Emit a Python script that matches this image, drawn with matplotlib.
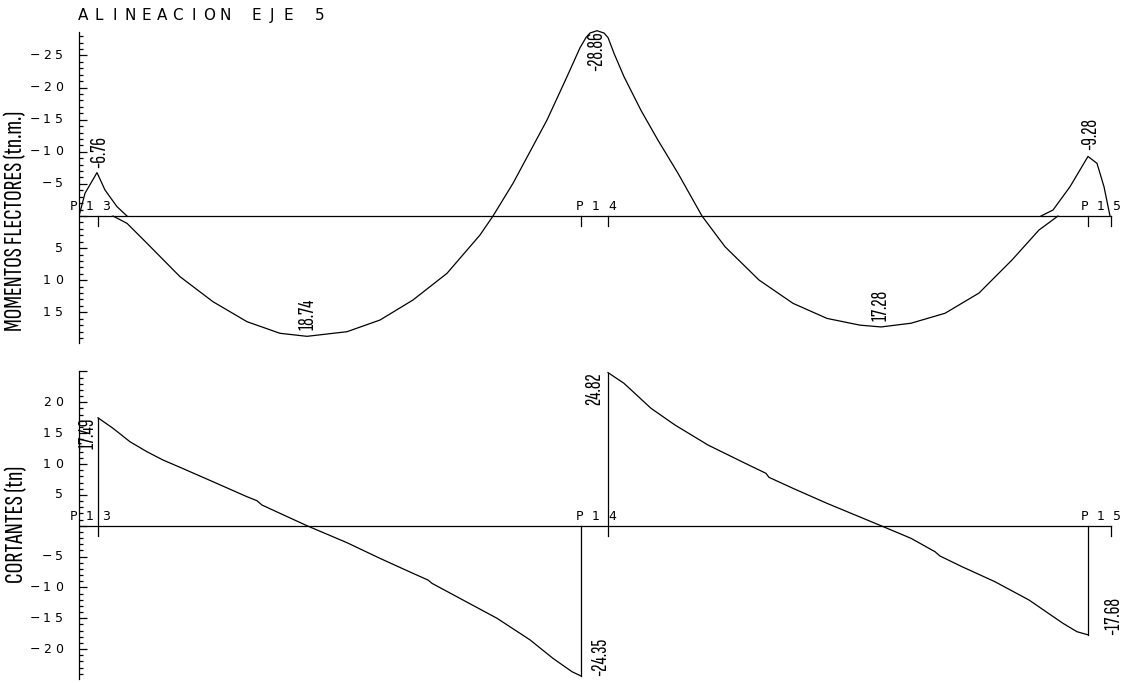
import matplotlib.pyplot as plt

# column faces along the beam (m)
col_names = ['P13', 'P14', 'P15']
col_left = [0.00, 5.02, 10.09]
col_right = [0.19, 5.29, 10.32]

# bending moments (tn.m), negative = hogging
hog_a_x = [0.00, 0.06, 0.18, 0.26, 0.38, 0.48]
hog_a_m = [0.00, -3.54, -6.76, -4.05, -1.45, 0.00]

sag_x = [0.34, 0.48, 0.68, 1.01, 1.34, 1.68, 2.01, 2.28, 2.68, 3.01, 3.34, 3.68,
         4.01, 4.14, 4.34, 4.68, 4.88, 5.01, 5.07, 5.11, 5.18, 5.25, 5.29, 5.35,
         5.45, 5.62, 5.79, 5.99, 6.23, 6.46, 6.80, 7.14, 7.48, 7.81, 8.02, 8.32,
         8.66, 9.00, 9.33, 9.60, 9.79]
sag_m = [0.00, 1.14, 4.25, 9.45, 13.35, 16.46, 18.27, 18.74, 18.02, 16.20, 13.08, 8.93,
         2.96, 0.00, -5.09, -14.95, -21.70, -26.20, -27.80, -28.50, -28.86, -28.50, -27.80, -25.34,
         -21.70, -16.45, -11.80, -6.65, 0.00, 4.78, 9.97, 13.60, 15.95, 17.00, 17.28, 16.70,
         15.15, 12.00, 6.85, 2.18, 0.00]

hog_b_x = [9.62, 9.74, 9.91, 10.09, 10.18, 10.25, 10.31]
hog_b_m = [0.00, -0.93, -4.56, -9.28, -8.20, -4.56, 0.00]

# shear forces (tn)
v1_x = [0.19, 0.34, 0.51, 0.68, 0.84, 1.01, 1.34, 1.68, 1.78, 1.83, 2.01, 2.28,
        2.68, 3.01, 3.34, 3.49, 3.53, 3.84, 4.18, 4.51, 4.74, 4.93, 5.02]
v1 = [17.49, 15.79, 13.61, 11.99, 10.65, 9.47, 7.13, 4.70, 4.05, 3.35, 2.01, 0.00,
      -2.75, -5.29, -7.72, -8.80, -9.34, -12.04, -15.00, -18.50, -21.50, -23.66, -24.35]
v2_x = [5.29, 5.45, 5.72, 5.96, 6.29, 6.63, 6.87, 6.90, 7.14, 7.48, 8.02, 8.32,
        8.56, 8.61, 8.83, 9.16, 9.50, 9.84, 9.98, 10.09]
v2 = [24.82, 23.08, 19.03, 16.32, 13.08, 10.37, 8.49, 7.84, 6.06, 3.63, 0.00, -2.04,
      -4.21, -4.91, -6.64, -9.08, -12.04, -15.82, -17.18, -17.68]

m_ticks = [-25, -20, -15, -10, -5, 5, 10, 15]
v_ticks = [20, 15, 10, 5, -5, -10, -15, -20]

W, H = 1126, 683
LW = 0.9
CAD = ['DejaVu Sans']
NARROW = ['Sofia Sans Extra Condensed', 'Roboto Condensed', 'DejaVu Sans']


def spaced(ax, x, y, s, pitch, align='center', coords='data', dx=0, dy=0, **kw):
    # CAD style text: one glyph per fixed pitch
    n = len(s)
    if align == 'center':
        start = -(n - 1) / 2 * pitch
    elif align == 'right':
        start = -(n - 0.5) * pitch
    else:
        start = 0.5 * pitch
    for i, ch in enumerate(s):
        if ch == ' ':
            continue
        ax.annotate(ch, xy=(x, y), xycoords=coords, xytext=(dx + start + i * pitch, dy),
                    textcoords='offset pixels', ha='center', family=CAD, **kw)


fig = plt.figure(figsize=(W / 100, H / 100), dpi=100)
ax_m = fig.add_axes([79 / W, (H - 350) / H, 1047 / W, 325 / H])
ax_v = fig.add_axes([79 / W, 0, 1047 / W, 318 / H])

for ax, lo, hi, ticks in [(ax_m, -28.7, 19.8, m_ticks), (ax_v, -24.8, 25.0, v_ticks)]:
    for side in ['top', 'right', 'bottom']:
        ax.spines[side].set_visible(False)
    ax.spines['left'].set_bounds(lo, hi)
    ax.spines['left'].set_linewidth(LW)
    ax.set_xticks([])
    ax.set_yticks([t for t in range(-25, 26, 5) if lo <= t <= hi])
    ax.set_yticks([t for t in range(-30, 30) if lo <= t <= hi], minor=True)
    ax.tick_params(axis='y', which='both', direction='in', width=LW, labelleft=False)
    ax.tick_params(axis='y', which='major', length=5.8)
    ax.tick_params(axis='y', which='minor', length=2.9)
    for t in ticks:
        lbl = ('\u2212' if t < 0 else '') + str(abs(t))
        spaced(ax, 0, t, lbl, 12, align='right', coords=('axes fraction', 'data'),
               dx=-14, va='center', fontsize=9)
    # beam axis and column faces
    ax.plot([0, col_right[-1]], [0, 0], color='black', lw=LW)
    for name, a, b in zip(col_names, col_left, col_right):
        spaced(ax, (a + b) / 2, 0, name, 16.5, dx=1.5, dy=3, va='bottom', fontsize=9)

ax_m.set_xlim(0, 10.47)
ax_v.set_xlim(0, 10.47)
ax_m.set_ylim(20.87, -29.75)
ax_v.set_ylim(-25.49, 26.05)

# moment diagram
for xs, ms in [(hog_a_x, hog_a_m), (sag_x, sag_m), (hog_b_x, hog_b_m)]:
    ax_m.plot(xs, ms, color='black', lw=LW)
for x in [col_right[0], col_left[1], col_right[1], col_left[2], col_right[2]]:
    ax_m.plot([x, x], [0, 1.55], color='black', lw=LW)


def vlabel(ax, x, y, v, ha, va, dx, dy):
    ax.annotate(f'{v:.2f}', xy=(x, y), xytext=(dx, dy), textcoords='offset pixels',
                rotation=90, ha=ha, va=va, family=NARROW, fontsize=15.5)


i = hog_a_m.index(min(hog_a_m))
vlabel(ax_m, hog_a_x[i], hog_a_m[i], hog_a_m[i], 'center', 'bottom', 3, 5)
i = hog_b_m.index(min(hog_b_m))
vlabel(ax_m, hog_b_x[i], hog_b_m[i], hog_b_m[i], 'center', 'bottom', 3, 6)
i = sag_m.index(min(sag_m))
vlabel(ax_m, sag_x[i], sag_m[i], sag_m[i], 'center', 'top', 0, -1)
half = sag_x.index(6.23)
i = sag_m.index(max(sag_m[:half]))
vlabel(ax_m, sag_x[i], sag_m[i], sag_m[i], 'center', 'bottom', 1, 6)
i = half + sag_m[half:].index(max(sag_m[half:]))
vlabel(ax_m, sag_x[i], sag_m[i], sag_m[i], 'center', 'bottom', 0, 6)

# shear diagram
ax_v.plot(v1_x, v1, color='black', lw=LW)
ax_v.plot(v2_x, v2, color='black', lw=LW)
ax_v.plot([v1_x[0], v1_x[0]], [-1.6, v1[0]], color='black', lw=LW)
ax_v.plot([v1_x[-1], v1_x[-1]], [0, v1[-1]], color='black', lw=LW)
ax_v.plot([v2_x[0], v2_x[0]], [-1.6, v2[0]], color='black', lw=LW)
ax_v.plot([v2_x[-1], v2_x[-1]], [0, v2[-1]], color='black', lw=LW)
ax_v.plot([col_right[2], col_right[2]], [0, -1.6], color='black', lw=LW)
vlabel(ax_v, v1_x[0], v1[0], v1[0], 'right', 'top', 0, 0)
vlabel(ax_v, v2_x[0], v2[0], v2[0], 'right', 'top', -4, 0)
vlabel(ax_v, v1_x[-1], v1[-1], v1[-1], 'left', 'bottom', 10, 0)
vlabel(ax_v, v2_x[-1], v2[-1], v2[-1], 'left', 'bottom', 16, 0)

fig.text(16 / W, 1 - 221 / H, 'MOMENTOS FLECTORES (tn.m.)', rotation=90,
         ha='center', va='center', family=NARROW, fontsize=19)
fig.text(17 / W, 1 - 524 / H, 'CORTANTES (tn)', rotation=90,
         ha='center', va='center', family=NARROW, fontsize=19.5)
spaced(ax_m, 75, H - 20, 'ALINEACION EJE 5', 15.8, align='left',
       coords='figure pixels', va='baseline', fontsize=11)

fig.savefig('out.png', dpi=100)
